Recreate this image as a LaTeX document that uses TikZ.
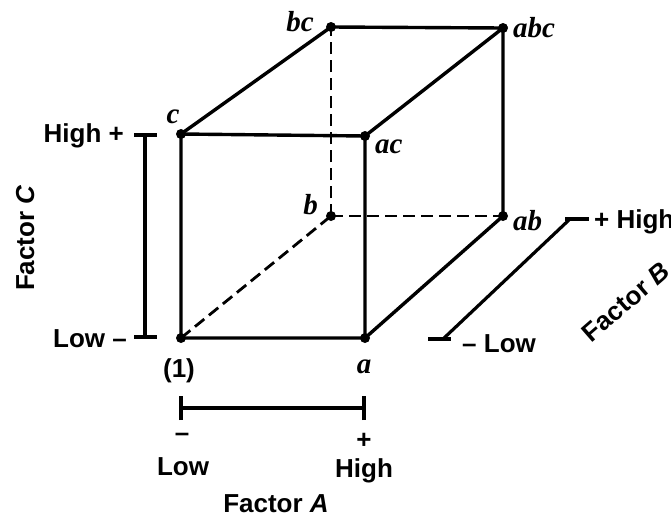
\documentclass[tikz,border=0pt]{standalone}
\usepackage{fontspec}
\setmainfont{Liberation Sans}
\newfontfamily\labfont{Liberation Serif}
\begin{document}
\begin{tikzpicture}[x=1pt,y=-1pt,
  edge/.style={line width=3.4pt},
  hid/.style={line width=2.8pt, dash pattern=on 12pt off 6pt},
  vtx/.style={circle, fill=black, inner sep=0pt, minimum size=10pt},
  lab/.style={inner sep=0pt, font=\labfont\fontsize{29}{33}\selectfont\bfseries\itshape},
  txt/.style={inner sep=0pt, font=\fontsize{26}{30}\selectfont\bfseries},
  bar/.style={line width=3.2pt}]
\useasboundingbox (0,0) rectangle (671,517);
% vertices
\node[vtx] (o) at (181,338) {};
\node[vtx] (a) at (365,338) {};
\node[vtx] (c) at (181,134) {};
\node[vtx] (ac) at (365,136) {};
\node[vtx] (b) at (331,216) {};
\node[vtx] (ab) at (503,216) {};
\node[vtx] (bc) at (331,27) {};
\node[vtx] (abc) at (503,28) {};
% solid edges
\draw[edge] (o.center) -- (a.center) -- (ac.center) -- (c.center) -- cycle;
\draw[edge] (c.center) -- (bc.center) -- (abc.center) -- (ac.center);
\draw[edge] (abc.center) -- (ab.center) -- (a.center);
% hidden edges
\draw[hid] (o.center) -- (b.center);
\draw[hid] (b.center) -- (ab.center);
\draw[hid] (b.center) -- (bc.center);
% vertex labels
\node[lab, anchor=base] (lc) at (173,123) {c};
\node[lab, anchor=base east] (lbc) at (314,31) {bc};
\node[lab, anchor=base west] (labc) at (513,37) {abc};
\node[lab, anchor=base west] (lac) at (375,153) {ac};
\node[lab, anchor=base east] (lb) at (318,214) {b};
\node[lab, anchor=base west] (lab) at (513,230) {ab};
\node[txt, anchor=base] (lo) at (179,377) {(1)};
\node[lab, anchor=base] (la) at (364,373) {a};
% Factor C
\coordinate (cH) at (145,135);
\coordinate (cL) at (145,337);
\draw[bar] (cH) -- (cL);
\draw[bar] ([xshift=-11pt]cH) -- ([xshift=12pt]cH);
\draw[bar] ([xshift=-11pt]cL) -- ([xshift=12pt]cL);
\node[txt, anchor=base east] (cHt) at (124,142) {High +};
\node[txt, anchor=base east] (cLt) at (127,347) {Low –};
\node[txt, rotate=90, anchor=base] (fc) at (34,238) {Factor \textit{C}};
% Factor A
\coordinate (aL) at (181,408);
\coordinate (aH) at (364,408);
\draw[bar] (aL) -- (aH);
\draw[bar] ([yshift=-12pt]aL) -- ([yshift=12pt]aL);
\draw[bar] ([yshift=-12pt]aH) -- ([yshift=12pt]aH);
\node[txt] (aLs) at (182,437) {–};
\node[txt] (aHs) at (364,441) {+};
\node[txt, anchor=base] (aLt) at (183,475) {Low};
\node[txt, anchor=base] (aHt) at (364,477) {High};
\node[txt, anchor=base] (fa) at (276,512) {Factor \textit{A}};
% Factor B
\coordinate (bH) at (570,219);
\coordinate (bL) at (443,339);
\draw[bar] (bL) -- (bH);
\draw[bar] (565,219) -- (589,219);
\draw[bar] (428,339) -- (451,339);
\node[txt, anchor=base west] (bHt) at (594,228) {+ High};
\node[txt, anchor=base west] (bLt) at (462,352) {– Low};
\node[txt, rotate=41] (fb) at (626,302) {Factor \textit{B}};
\end{tikzpicture}
\end{document}
